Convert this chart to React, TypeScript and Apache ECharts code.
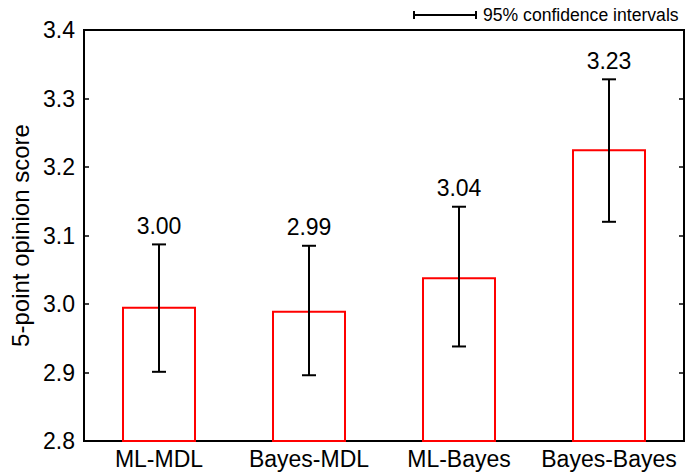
import React, { useEffect, useRef } from "react";
import * as echarts from "echarts";

const categories = ["ML-MDL", "Bayes-MDL", "ML-Bayes", "Bayes-Bayes"];
const means = [2.996, 2.99, 3.039, 3.226];
const ciLow = [2.901, 2.896, 2.938, 3.12];
const ciHigh = [3.087, 3.085, 3.142, 3.328];
const yTicks = { min: 2.8, max: 3.4, interval: 0.1 };
const yName = "5-point opinion score";
const legendText = "95% confidence intervals";

const FONT = "'Liberation Sans', Arial, Helvetica, sans-serif";

export default function App() {
  const ref = useRef<HTMLDivElement>(null);
  useEffect(() => {
    if (!ref.current) return;
    const chart = echarts.init(ref.current, null, { renderer: "svg" });
    const errData = categories.map((c, i) => [i, ciLow[i], ciHigh[i]]);
    const option: any = {
      animation: false,
      backgroundColor: "#fff",
      textStyle: { fontFamily: FONT, color: "#000" },
      grid: {
        left: 81,
        right: 4,
        top: 30,
        bottom: 33,
        show: true,
        borderColor: "#000",
        borderWidth: 2,
        backgroundColor: "transparent",
      },
      xAxis: {
        type: "category",
        data: categories,
        axisLine: { show: true, lineStyle: { color: "#000", width: 2 } },
        axisTick: { show: false },
        axisLabel: { color: "#000", fontSize: 23, fontFamily: FONT, margin: 6, interval: 0 },
        splitLine: { show: false },
      },
      yAxis: [
        {
          type: "value",
          min: yTicks.min,
          max: yTicks.max,
          interval: yTicks.interval,
          name: yName,
          nameLocation: "middle",
          nameGap: 52,
          nameTextStyle: { color: "#000", fontSize: 24, fontFamily: FONT },
          axisLine: { show: true, lineStyle: { color: "#000", width: 2 } },
          axisTick: { show: true, inside: true, length: 5, lineStyle: { color: "#000", width: 1.5 } },
          axisLabel: {
            color: "#000",
            fontSize: 23,
            fontFamily: FONT,
            margin: 9,
            formatter: (v: number) => v.toFixed(1),
          },
          splitLine: { show: false },
        },
        {
          type: "value",
          position: "right",
          min: yTicks.min,
          max: yTicks.max,
          interval: yTicks.interval,
          axisLine: { show: true, lineStyle: { color: "#000", width: 2 } },
          axisTick: { show: true, inside: true, length: 5, lineStyle: { color: "#000", width: 1.5 } },
          axisLabel: { show: false },
          splitLine: { show: false },
        },
      ],
      series: [
        {
          type: "bar",
          data: means,
          barWidth: 74,
          itemStyle: { color: "#fff", borderColor: "#ff0000", borderWidth: 2 },
          z: 2,
        },
        {
          type: "custom",
          z: 5,
          data: errData,
          encode: { x: 0, y: [1, 2] },
          renderItem: (params: any, api: any) => {
            const x = api.value(0);
            const lo = api.coord([x, api.value(1)]);
            const hi = api.coord([x, api.value(2)]);
            const half = 7;
            const st = { stroke: "#000", lineWidth: 2 };
            return {
              type: "group",
              children: [
                { type: "line", shape: { x1: lo[0], y1: lo[1], x2: hi[0], y2: hi[1] }, style: st },
                { type: "line", shape: { x1: hi[0] - half, y1: hi[1], x2: hi[0] + half, y2: hi[1] }, style: st },
                { type: "line", shape: { x1: lo[0] - half, y1: lo[1], x2: lo[0] + half, y2: lo[1] }, style: st },
                {
                  type: "text",
                  x: hi[0],
                  y: hi[1] - 7,
                  style: {
                    text: means[params.dataIndex].toFixed(2),
                    textAlign: "center",
                    textVerticalAlign: "bottom",
                    fontSize: 23,
                    fontFamily: FONT,
                    fill: "#000",
                  },
                },
              ],
            };
          },
        },
      ],
      graphic: [
        { type: "line", shape: { x1: 414, y1: 15, x2: 476, y2: 15 }, style: { stroke: "#000", lineWidth: 2 } },
        { type: "line", shape: { x1: 414, y1: 11, x2: 414, y2: 19 }, style: { stroke: "#000", lineWidth: 2 } },
        { type: "line", shape: { x1: 476, y1: 11, x2: 476, y2: 19 }, style: { stroke: "#000", lineWidth: 2 } },
        {
          type: "text",
          x: 483,
          y: 15,
          style: {
            text: legendText,
            fontSize: 17.6,
            fontFamily: FONT,
            fill: "#000",
            textVerticalAlign: "middle",
          },
        },
      ],
    };
    chart.setOption(option);
    return () => chart.dispose();
  }, []);
  return (
    <div
      ref={ref}
      style={{ position: "fixed", left: 0, top: 0, width: 688, height: 474 }}
    />
  );
}
